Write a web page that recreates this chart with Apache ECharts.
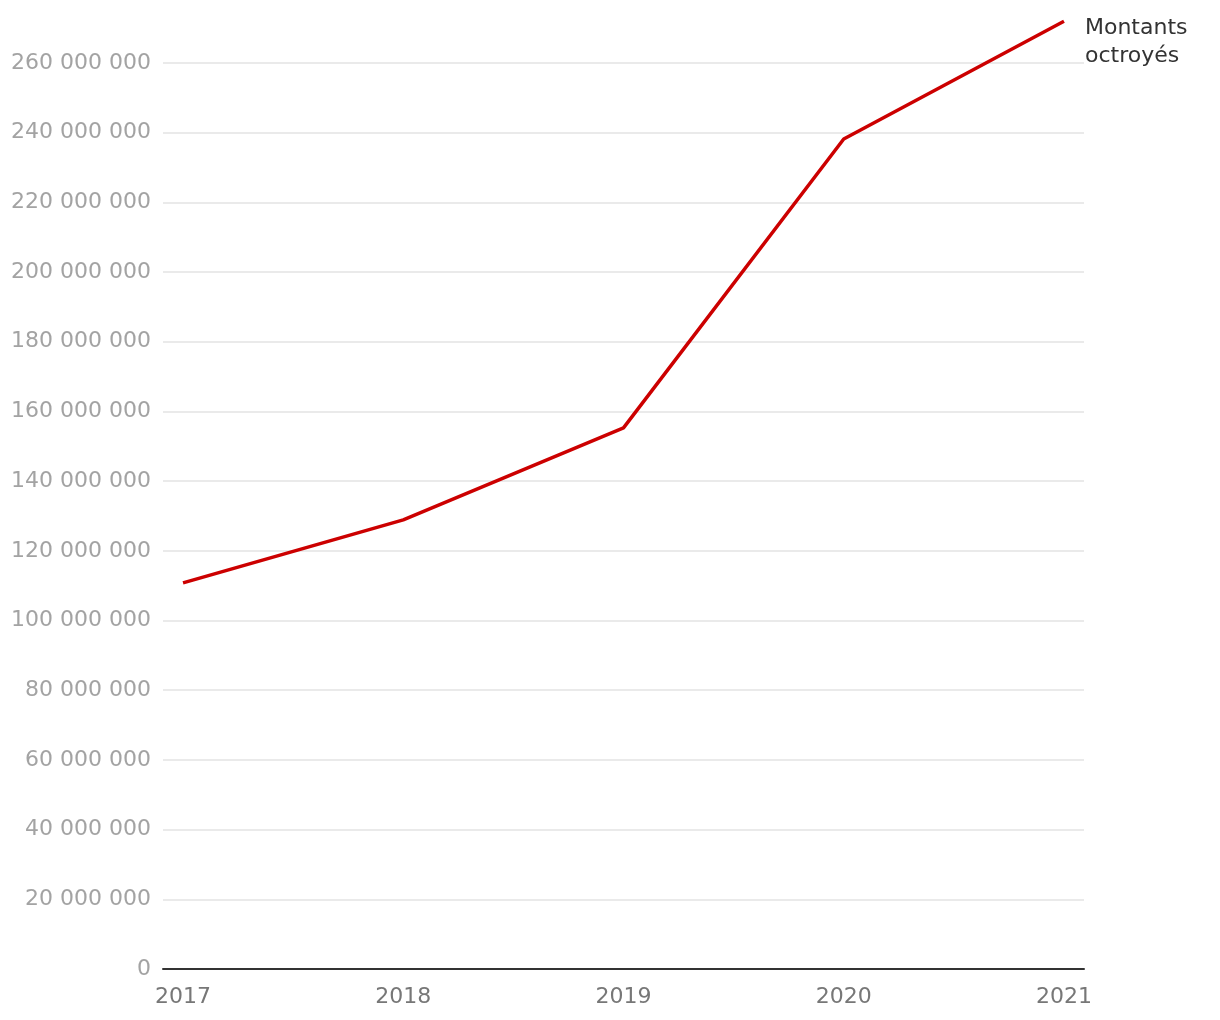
<!DOCTYPE html>
<html>
<head>
<meta charset="utf-8">
<script src="https://cdn.jsdelivr.net/npm/echarts@6/dist/echarts.min.js"></script>
<style>
    html, body { margin: 0; padding: 0; background: #fff; }
    #montantsLine { width: 1220px; height: 1020px; }
</style>
</head>
<body>
<div id="montantsLine"></div>
<script>
    // annees et montants octroyes
    const years = [2017, 2018, 2019, 2020, 2021];
    const montants = [110800000, 128900000, 155300000, 238200000, 272000000];
    const yTicks = [0, 20000000, 40000000, 60000000, 80000000, 100000000, 120000000,
        140000000, 160000000, 180000000, 200000000, 220000000, 240000000, 260000000];
    const seriesName = 'Montants\noctroyés';

    const fontFamily = '"DejaVu Sans", sans-serif';

    let myChart = echarts.init(document.getElementById('montantsLine'));

    let option = {
        animation: false,
        grid: {
            left: 163,
            right: 136,
            top: 63,
            bottom: 51,
            containLabel: false
        },
        xAxis: {
            type: 'value',
            min: years[0] - 1 / 11,
            max: years[years.length - 1] + 1 / 11,
            axisLine: {
                show: true,
                onZero: false,
                lineStyle: { color: '#333', width: 2 }
            },
            axisTick: { show: false },
            splitLine: { show: false },
            axisLabel: {
                customValues: years,
                color: '#777',
                fontSize: 22,
                fontFamily: fontFamily,
                margin: 17,
                formatter: v => String(v)
            }
        },
        yAxis: {
            type: 'value',
            min: 0,
            max: yTicks[yTicks.length - 1],
            interval: 20000000,
            axisLine: { show: false },
            axisTick: { show: false },
            splitLine: {
                lineStyle: { color: '#e3e3e3', width: 1.5 }
            },
            axisLabel: {
                color: '#a3a3a3',
                fontSize: 22,
                fontFamily: fontFamily,
                margin: 12,
                formatter: v => String(v).replace(/\B(?=(\d{3})+(?!\d))/g, ' ')
            }
        },
        series: [{
            name: seriesName,
            type: 'line',
            clip: false,
            symbol: 'none',
            data: years.map((y, i) => [y, montants[i]]),
            lineStyle: { color: '#cc0000', width: 3.5 },
            endLabel: {
                show: true,
                formatter: seriesName,
                color: '#333',
                fontSize: 22,
                fontFamily: fontFamily,
                lineHeight: 28,
                align: 'left',
                verticalAlign: 'middle',
                distance: 5,
                offset: [16, 21]
            }
        }]
    };

    myChart.setOption(option);
</script>
</body>
</html>
